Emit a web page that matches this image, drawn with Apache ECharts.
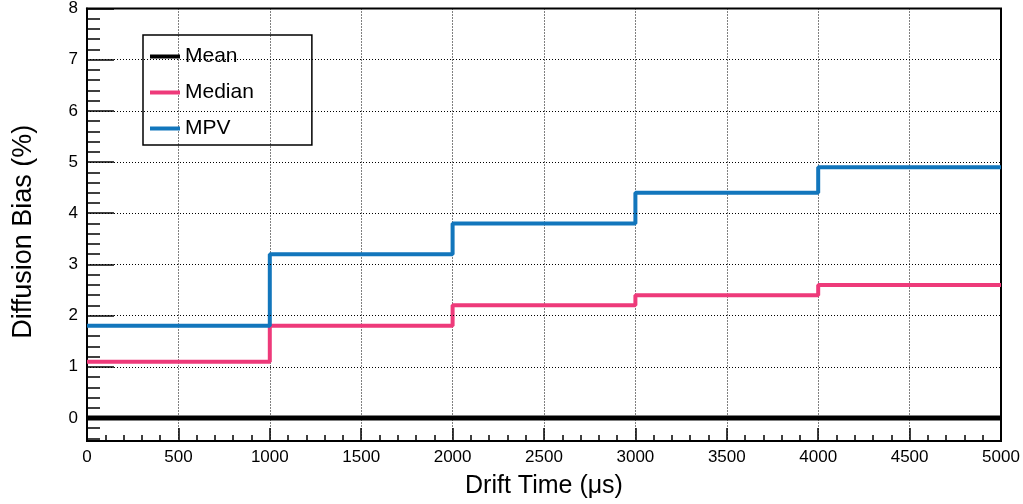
<!DOCTYPE html>
<html>
<head>
<meta charset="utf-8">
<script src="https://cdn.jsdelivr.net/npm/echarts@6/dist/echarts.min.js"></script>
<style>html,body{margin:0;padding:0;background:#fff}#c{width:1023px;height:504px}</style>
</head>
<body>
<div id="c"></div>
<script>
// bin edges (drift time, µs) and per-bin values (%)
const binEdges = [0, 1000, 2000, 3000, 4000, 5000];
const meanValues = [0, 0, 0, 0, 0];
const medianValues = [1.1, 1.8, 2.2, 2.4, 2.6];
const mpvValues = [1.8, 3.2, 3.8, 4.4, 4.9];
const yTickLabels = [0, 1, 2, 3, 4, 5, 6, 7, 8];
const yMinorTicks = [-0.4, -0.2, 0.2, 0.4, 0.6, 0.8, 1.2, 1.4, 1.6, 1.8, 2.2, 2.4, 2.6, 2.8, 3.2, 3.4, 3.6, 3.8, 4.2, 4.4, 4.6, 4.8, 5.2, 5.4, 5.6, 5.8, 6.2, 6.4, 6.6, 6.8, 7.2, 7.4, 7.6, 7.8];

function stepData(vals) {
  const d = vals.map((v, i) => [binEdges[i], v]);
  d.push([binEdges[binEdges.length - 1], vals[vals.length - 1]]);
  return d;
}

const FONT = '"Liberation Sans", Arial, Helvetica, sans-serif';
const YMIN = -0.45, YMAX = 8;
const chart = echarts.init(document.getElementById('c'));
const mkSeries = (name, vals, color, w) => ({
  name, type: 'line', step: 'end', data: stepData(vals), symbol: 'none',
  lineStyle: { color, width: w }, itemStyle: { color }, z: name === 'Mean' ? 5 : 4, animation: false
});
chart.setOption({
  animation: false,
  backgroundColor: '#fff',
  grid: { left: 87, right: 22, top: 8, bottom: 62, show: true, borderColor: '#000', borderWidth: 2, backgroundColor: 'transparent' },
  legend: {
    left: 143, top: 35, orient: 'vertical',
    data: ['Mean', 'Median', 'MPV'],
    icon: 'rect', itemWidth: 30, itemHeight: 4, itemGap: 15,
    borderColor: '#000', borderWidth: 1.5, padding: [11, 58, 6, 7],
    textStyle: { fontFamily: FONT, fontSize: 21, color: '#000' },
    selectedMode: false
  },
  xAxis: {
    type: 'value', min: 0, max: 5000, interval: 500,
    name: 'Drift Time (\u03bcs)', nameLocation: 'middle', nameGap: 33,
    nameTextStyle: { fontFamily: FONT, fontSize: 25, color: '#000' },
    axisLine: { show: true, onZero: false, lineStyle: { color: '#000', width: 2 } },
    axisTick: { show: true, inside: true, length: 13, lineStyle: { color: '#000', width: 1.5 } },
    minorTick: { show: true, splitNumber: 5, length: 6, lineStyle: { color: '#000', width: 1.5 } },
    axisLabel: { fontFamily: FONT, fontSize: 17, color: '#000', margin: 8, formatter: v => String(v) },
    splitLine: { show: true, lineStyle: { color: '#000', width: 1, type: [1, 2] } }
  },
  yAxis: [{
    type: 'value', min: YMIN, max: YMAX,
    name: 'Diffusion Bias (%)', nameLocation: 'middle', nameGap: 50,
    nameTextStyle: { fontFamily: FONT, fontSize: 27, color: '#000', padding: [0, 14, 0, 0] },
    axisLine: { show: true, onZero: false, lineStyle: { color: '#000', width: 2 } },
    axisTick: { show: true, inside: true, length: 27, customValues: yTickLabels, lineStyle: { color: '#000', width: 1.5 } },
    axisLabel: { fontFamily: FONT, fontSize: 17, color: '#000', margin: 9, customValues: yTickLabels },
    splitLine: { show: false }
  }, {
    type: 'value', min: YMIN, max: YMAX, position: 'left',
    axisLine: { show: false },
    axisTick: { show: true, inside: true, length: 13, customValues: yMinorTicks, lineStyle: { color: '#000', width: 1.5 } },
    axisLabel: { show: false },
    splitLine: { show: false }
  }],
  series: [
    Object.assign(mkSeries('Mean', meanValues, '#000000', 5), {
      markLine: {
        silent: true, symbol: 'none', label: { show: false }, animation: false,
        lineStyle: { color: '#000', width: 1, type: [1, 2] },
        data: yTickLabels.filter(v => v > 0 && v < YMAX).map(v => ({ yAxis: v }))
      }
    }),
    mkSeries('Median', medianValues, '#ee3a7a', 4),
    mkSeries('MPV', mpvValues, '#1276bc', 4)
  ]
});
</script>
</body>
</html>
